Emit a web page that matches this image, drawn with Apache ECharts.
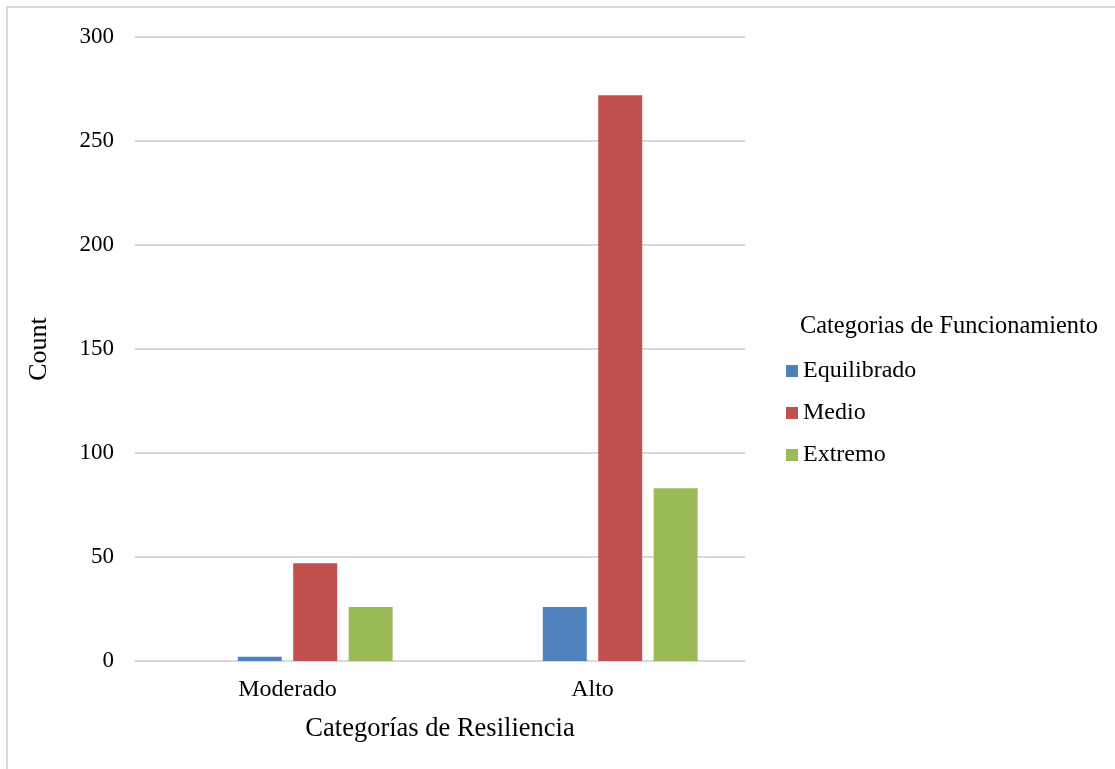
<!DOCTYPE html>
<html>
<head>
<meta charset="utf-8">
<script src="https://cdn.jsdelivr.net/npm/echarts@6/dist/echarts.min.js"></script>
<style>
  html, body { margin: 0; padding: 0; background: #ffffff; }
  #chart { width: 1115px; height: 769px; }
</style>
</head>
<body>
<div id="chart"></div>
<script>
// Counts by resilience category, split by functioning category
const categories = ['Moderado', 'Alto'];
const seriesNames = ['Equilibrado', 'Medio', 'Extremo'];
const equilibrado = [2, 26];
const medio = [47, 272];
const extremo = [26, 83];
const yTicks = [0, 50, 100, 150, 200, 250, 300];
const colors = ['#4F81BD', '#C0504D', '#9BBB59'];

const FONT = '"Liberation Serif", "Times New Roman", serif';
const values = [equilibrado, medio, extremo];

const chart = echarts.init(document.getElementById('chart'), null, { renderer: 'canvas' });

// An empty leading slot keeps each group's bars offset as in the original layout
const series = [{
  name: '',
  type: 'bar',
  barWidth: 44,
  barGap: '26%',
  data: categories.map(() => '-'),
  silent: true
}].concat(seriesNames.map((name, i) => ({
  name: name,
  type: 'bar',
  barWidth: 44,
  barGap: '26%',
  itemStyle: { color: colors[i] },
  data: values[i]
})));

chart.setOption({
  backgroundColor: '#ffffff',
  animation: false,
  textStyle: { fontFamily: FONT, color: '#000' },
  graphic: [{
    type: 'rect',
    shape: { x: 7, y: 7, width: 1130, height: 790 },
    style: { fill: 'none', stroke: '#D9D9D9', lineWidth: 2 },
    silent: true
  }],
  title: {
    text: 'Categorias de Funcionamiento',
    left: 795,
    top: 310,
    textStyle: { fontFamily: FONT, fontSize: 24.4, fontWeight: 'normal', color: '#000' }
  },
  legend: {
    data: seriesNames,
    orient: 'vertical',
    left: 781,
    top: 354,
    itemWidth: 12,
    itemHeight: 12,
    itemGap: 18,
    icon: 'rect',
    textStyle: { fontFamily: FONT, fontSize: 24, color: '#000' }
  },
  grid: { left: 135, right: 370, top: 37, bottom: 108, containLabel: false },
  xAxis: {
    type: 'category',
    data: categories,
    name: 'Categorías de Resiliencia',
    nameLocation: 'middle',
    nameGap: 55,
    nameTextStyle: { fontFamily: FONT, fontSize: 26.5, color: '#000' },
    axisLine: { show: true, lineStyle: { color: '#D9D9D9', width: 2 } },
    axisTick: { show: false },
    axisLabel: { fontFamily: FONT, fontSize: 24, color: '#000', margin: 17 }
  },
  yAxis: {
    type: 'value',
    min: yTicks[0],
    max: yTicks[yTicks.length - 1],
    interval: yTicks[1] - yTicks[0],
    name: 'Count',
    nameLocation: 'middle',
    nameGap: 83,
    nameTextStyle: { fontFamily: FONT, fontSize: 26, color: '#000' },
    axisLine: { show: false },
    axisTick: { show: false },
    splitLine: { lineStyle: { color: '#D9D9D9', width: 2 } },
    axisLabel: { fontFamily: FONT, fontSize: 23, color: '#000', margin: 21 }
  },
  series: series
});
</script>
</body>
</html>
